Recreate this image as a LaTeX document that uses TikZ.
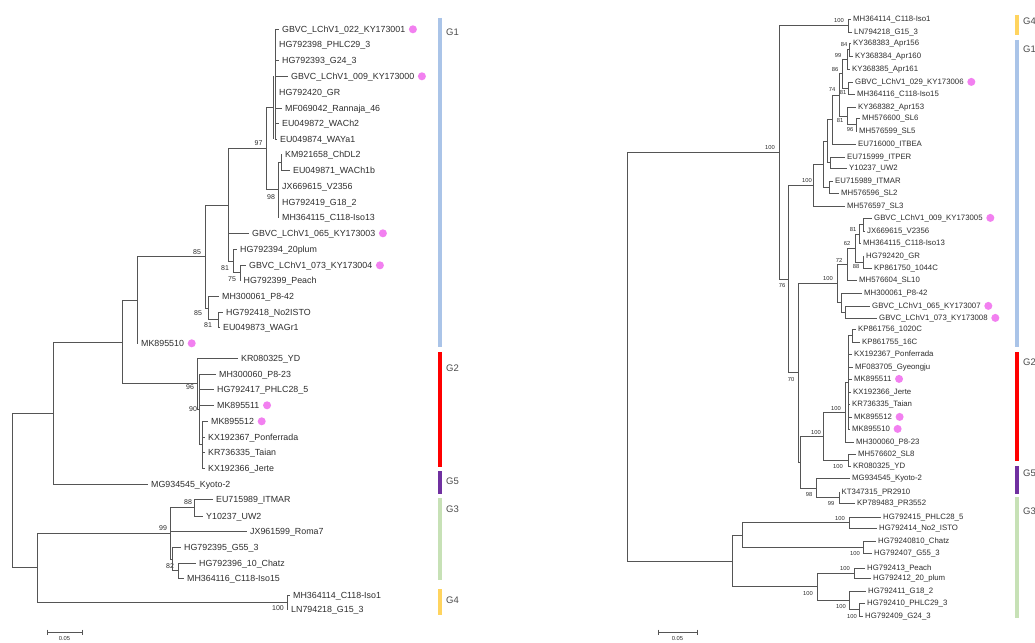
\documentclass[tikz,border=0pt]{standalone}
\usepackage{fontspec}
\setmainfont{Liberation Sans}
\definecolor{dotpink}{RGB}{242,128,240}
\definecolor{gA}{RGB}{170,196,232}
\definecolor{gB}{RGB}{255,0,0}
\definecolor{gC}{RGB}{112,48,160}
\definecolor{gD}{RGB}{199,225,182}
\definecolor{gE}{RGB}{255,212,95}
\definecolor{lnc}{RGB}{85,85,85}
\definecolor{txc}{RGB}{45,45,45}
\newcommand\tvl[3]{\draw[br] (#1,#2) -- (#1,#3);}
\newcommand\thl[3]{\draw[br] (#1,#3) -- (#2,#3);}
\newcommand\leafL[5]{\draw[br] (#2,#4) -- (#3-3,#4); \node[lblL] (#1) at (#3,#4+3.2) {#5};}
\newcommand\leafR[5]{\draw[brR] (#2,#4) -- (#3-2.5,#4); \node[lblR] (#1) at (#3,#4+2.8) {#5};}
\newcommand\pinkdot[2]{\node[dotc] (#1) at ([xshift=7.5pt,yshift=2.9pt]#2.base east) {};}
\begin{document}
\begin{tikzpicture}[x=1pt,y=-1pt,
 br/.style={draw=lnc, line width=0.9pt},
 brR/.style={draw=lnc, line width=0.8pt},
 lblL/.style={font=\fontsize{8.85}{10}\selectfont, text=txc, inner sep=0pt, anchor=base west},
 lblR/.style={font=\fontsize{7.8}{9}\selectfont, text=txc, inner sep=0pt, anchor=base west},
 bsL/.style={font=\fontsize{7}{8}\selectfont, text=txc, inner sep=0pt},
 bsR/.style={font=\fontsize{5.8}{7}\selectfont, text=txc, inner sep=0pt},
 dotc/.style={circle, fill=dotpink, minimum size=8pt, inner sep=0pt},
 grp/.style={font=\fontsize{9.5}{11}\selectfont, text=black!70, anchor=west, inner sep=0pt},
 bar/.style={line width=4.5pt}
]
\useasboundingbox (0,0) rectangle (1035,642);
\fill[white] (0,0) rectangle (1035,642);
\clip (0,0) rectangle (1035,642);

% ================= LEFT TREE =================
\tvl{275}{29}{139}
\tvl{273}{76}{139}
\thl{266}{273}{107.5}
\leafL{L1}{275}{282}{29}{GBVC\_LChV1\_022\_KY173001}\pinkdot{D1}{L1}
\leafL{L2}{275}{279}{44}{HG792398\_PHLC29\_3}
\leafL{L3}{275}{282}{60}{HG792393\_G24\_3}
\leafL{L4}{275}{291}{76}{GBVC\_LChV1\_009\_KY173000}\pinkdot{D2}{L4}
\leafL{L5}{275}{279}{92}{HG792420\_GR}
\leafL{L6}{275}{285}{108}{MF069042\_Rannaja\_46}
\leafL{L7}{275}{282}{123}{EU049872\_WACh2}
\leafL{L8}{275}{280}{139}{EU049874\_WAYa1}
\tvl{281}{154}{170}
\leafL{L9}{281}{285}{154}{KM921658\_ChDL2}
\leafL{L10}{281}{293}{170}{EU049871\_WACh1b}
\thl{278}{281}{162}
\leafL{L11}{278}{282}{186}{JX669615\_V2356}
\leafL{L12}{278}{282}{202}{HG792419\_G18\_2}
\leafL{L13}{278}{282}{217}{MH364115\_C118-Iso13}
\tvl{278}{162}{217}
\thl{266}{278}{189.5}
\node[bsL] (bL98) at (271,197) {98};
\tvl{266}{107.5}{189.5}
\thl{228}{266}{148.5}
\node[bsL] (bL97) at (258.5,143) {97};
\leafL{L14}{228}{252}{233}{GBVC\_LChV1\_065\_KY173003}\pinkdot{D3}{L14}
\leafL{L15}{233}{240}{249}{HG792394\_20plum}
\leafL{L16}{240}{249}{265}{GBVC\_LChV1\_073\_KY173004}\pinkdot{D4}{L16}
\leafL{L17}{240}{243.5}{280}{HG792399\_Peach}
\tvl{240}{265}{280}
\thl{233}{240}{272.5}
\node[bsL] (bL75) at (232,279) {75};
\tvl{233}{249}{272.5}
\thl{228}{233}{261}
\node[bsL] (bL81a) at (225,268) {81};
\tvl{228}{148.5}{261}
\thl{205}{228}{205}
\leafL{L18}{208}{222}{296}{MH300061\_P8-42}
\leafL{L19}{218}{226}{312}{HG792418\_No2ISTO}
\leafL{L20}{218}{223}{327}{EU049873\_WAGr1}
\tvl{218}{312}{327}
\thl{208}{218}{319.5}
\node[bsL] (bL81b) at (208,325) {81};
\tvl{208}{296}{319.5}
\thl{205}{208}{308}
\node[bsL] (bL85b) at (198,313) {85};
\tvl{205}{205}{308}
\thl{137}{205}{256.5}
\node[bsL] (bL85a) at (197,252) {85};
\leafL{L21}{137}{141}{343}{MK895510}\pinkdot{D5}{L21}
\tvl{137}{256.5}{343}
\thl{122}{137}{300}
\leafL{L22}{197}{241}{358}{KR080325\_YD}
\leafL{L23}{199}{219}{374}{MH300060\_P8-23}
\leafL{L24}{199}{217}{389}{HG792417\_PHLC28\_5}
\leafL{L25}{199}{217}{405}{MK895511}\pinkdot{D6}{L25}
\leafL{L26}{202}{211}{421}{MK895512}\pinkdot{D7}{L26}
\leafL{L27}{202}{208}{437}{KX192367\_Ponferrada}
\leafL{L28}{202}{208}{452}{KR736335\_Taian}
\leafL{L29}{202}{208}{468}{KX192366\_Jerte}
\tvl{202}{421}{468}
\thl{199}{202}{444.5}
\tvl{199}{374}{444.5}
\thl{197}{199}{409}
\node[bsL] (bL90) at (193,409) {90};
\tvl{197}{358}{409}
\thl{122}{197}{383.5}
\node[bsL] (bL96) at (190,387) {96};
\tvl{122}{300}{383.5}
\thl{53}{122}{342}
\leafL{L30}{53}{151}{484}{MG934545\_Kyoto-2}
\tvl{53}{342}{484}
\thl{12}{53}{413}
\leafL{L31}{194}{216}{499}{EU715989\_ITMAR}
\leafL{L32}{194}{206}{516}{Y10237\_UW2}
\tvl{194}{499}{516}
\thl{170}{194}{507.5}
\node[bsL] (bL88) at (188,502) {88};
\leafL{L33}{170}{250}{531}{JX961599\_Roma7}
\leafL{L34}{172}{184}{547}{HG792395\_G55\_3}
\leafL{L35}{178}{199}{563}{HG792396\_10\_Chatz}
\leafL{L36}{178}{187}{578}{MH364116\_C118-Iso15}
\tvl{178}{563}{578}
\thl{172}{178}{570.5}
\node[bsL] (bL82) at (170,566) {82};
\tvl{172}{547}{570.5}
\thl{170}{172}{559}
\tvl{170}{507.5}{559}
\thl{37}{170}{533}
\node[bsL] (bL99) at (163,528) {99};
\leafL{L37}{287}{293}{595}{MH364114\_C118-Iso1}
\leafL{L38}{287}{291}{609}{LN794218\_G15\_3}
\tvl{287}{595}{609}
\thl{37}{287}{602}
\node[bsL] (bL100) at (278,608) {100};
\tvl{37}{533}{602}
\thl{12}{37}{567.5}
\tvl{12}{413}{567.5}
% scale bar left
\draw[br] (47,632) -- (82,632);
\draw[br] (47,629.5) -- (47,634.5);
\draw[br] (82,629.5) -- (82,634.5);
\node[bsR] (sL) at (64.5,638.5) {0.05};
% group bars left
\draw[bar, gA] (440,18) -- (440,347);
\draw[bar, gB] (440,352) -- (440,467);
\draw[bar, gC] (440,471) -- (440,494);
\draw[bar, gD] (440,498) -- (440,580);
\draw[bar, gE] (440,589) -- (440,615);
\node[grp] (gL1) at (446,32) {G1};
\node[grp] (gL2) at (446,368) {G2};
\node[grp] (gL5) at (446,481) {G5};
\node[grp] (gL3) at (446,509) {G3};
\node[grp] (gL4) at (446,600) {G4};

% ================= RIGHT TREE =================
\leafR{R1}{848}{853}{19}{MH364114\_C118-Iso1}
\leafR{R2}{848}{854}{32}{LN794218\_G15\_3}
\tvl{848}{19}{32}
\thl{779}{848}{25.5}
\node[bsR] (bR100a) at (839,21) {100};
\leafR{R3}{849}{853}{43}{KY368383\_Apr156}
\leafR{R4}{849}{855}{56}{KY368384\_Apr160}
\tvl{849}{43}{56}
\node[bsR] (bR84) at (844,45) {84};
\leafR{R5}{847}{852}{69}{KY368385\_Apr161}
\thl{847}{849}{49.5}
\tvl{847}{49.5}{69}
\node[bsR] (bR99a) at (838,56) {99};
\leafR{R6}{848}{855}{82}{GBVC\_LChV1\_029\_KY173006}\pinkdot{D8}{R6}
\leafR{R7}{848}{857}{94}{MH364116\_C118-Iso15}
\tvl{848}{82}{94}
\node[bsR] (bR81a) at (843,93) {81};
\thl{842}{847}{59}
\thl{842}{848}{88}
\tvl{842}{59}{88}
\node[bsR] (bR86) at (835,70) {86};
\leafR{R8}{847}{858}{107}{KY368382\_Apr153}
\leafR{R9}{856}{862}{118}{MH576600\_SL6}
\leafR{R10}{856}{859}{131}{MH576599\_SL5}
\tvl{856}{118}{131}
\node[bsR] (bR96) at (850,130) {96};
\thl{847}{856}{124.5}
\tvl{847}{107}{124.5}
\node[bsR] (bR81b) at (840,121) {81};
\thl{839}{842}{73.5}
\thl{839}{847}{116}
\tvl{839}{73.5}{116}
\node[bsR] (bR74) at (832,90) {74};
\leafR{R11}{832}{858}{144}{EU716000\_ITBEA}
\thl{832}{839}{95}
\tvl{832}{95}{144}
\leafR{R12}{830}{847}{157}{EU715999\_ITPER}
\leafR{R13}{830}{849}{168}{Y10237\_UW2}
\tvl{830}{157}{168}
\thl{827}{832}{119.5}
\thl{827}{830}{162.5}
\tvl{827}{119.5}{162.5}
\leafR{R14}{829}{835}{181}{EU715989\_ITMAR}
\leafR{R15}{829}{841}{193}{MH576596\_SL2}
\tvl{829}{181}{193}
\thl{823}{827}{141}
\thl{823}{829}{187}
\tvl{823}{141}{187}
\leafR{R16}{813}{847}{206}{MH576597\_SL3}
\thl{813}{823}{164}
\tvl{813}{164}{206}
\thl{788}{813}{185}
\node[bsR] (bR100b) at (807,181) {100};
\leafR{R17}{863}{874}{218}{GBVC\_LChV1\_009\_KY173005}\pinkdot{D9}{R17}
\leafR{R18}{863}{867}{231}{JX669615\_V2356}
\tvl{863}{218}{231}
\leafR{R19}{859}{863}{243}{MH364115\_C118-Iso13}
\thl{859}{863}{224.5}
\tvl{859}{224.5}{243}
\node[bsR] (bR81c) at (853,230) {81};
\leafR{R20}{863}{866}{256}{HG792420\_GR}
\leafR{R21}{863}{874}{268}{KP861750\_1044C}
\tvl{863}{256}{268}
\node[bsR] (bR88) at (856,267) {88};
\thl{855}{859}{234}
\thl{855}{863}{262}
\tvl{855}{234}{262}
\node[bsR] (bR62) at (847,244) {62};
\leafR{R22}{847}{859}{280}{MH576604\_SL10}
\thl{847}{855}{248}
\tvl{847}{248}{280}
\node[bsR] (bR72) at (839,260) {72};
\leafR{R23}{841}{864}{293}{MH300061\_P8-42}
\leafR{R24}{845}{872}{306}{GBVC\_LChV1\_065\_KY173007}\pinkdot{D10}{R24}
\leafR{R25}{845}{879}{318}{GBVC\_LChV1\_073\_KY173008}\pinkdot{D11}{R25}
\tvl{845}{306}{318}
\thl{841}{845}{312}
\tvl{841}{293}{312}
\thl{837}{847}{264}
\thl{837}{841}{302.5}
\tvl{837}{264}{302.5}
\thl{798}{837}{283}
\node[bsR] (bR100c) at (828,279) {100};
\leafR{R26}{852}{858}{329}{KP861756\_1020C}
\leafR{R27}{852}{862}{342}{KP861755\_16C}
\tvl{852}{329}{342}
\thl{848}{852}{335.5}
\leafR{R28}{848}{854}{354}{KX192367\_Ponferrada}
\leafR{R29}{848}{855}{367}{MF083705\_Gyeongju}
\leafR{R30}{848}{854}{379}{MK895511}\pinkdot{D12}{R30}
\leafR{R31}{848}{853}{392}{KX192366\_Jerte}
\leafR{R32}{848}{852}{404}{KR736335\_Taian}
\leafR{R33}{848}{854}{417}{MK895512}\pinkdot{D13}{R33}
\leafR{R34}{848}{852}{429}{MK895510}\pinkdot{D14}{R34}
\tvl{848}{335.5}{429}
\leafR{R35}{845}{856}{442}{MH300060\_P8-23}
\thl{845}{848}{382}
\tvl{845}{382}{442}
\thl{823}{845}{412}
\node[bsR] (bR100d) at (836,408) {100};
\leafR{R36}{848}{858}{454}{MH576602\_SL8}
\leafR{R37}{848}{853}{466}{KR080325\_YD}
\tvl{848}{454}{466}
\thl{823}{848}{460}
\node[bsR] (bR100e) at (838,466) {100};
\tvl{823}{412}{460}
\thl{800}{823}{436}
\node[bsR] (bR100f) at (816,432) {100};
\leafR{R38}{816}{852}{478}{MG934545\_Kyoto-2}
\leafR{R39}{839}{841.5}{492}{KT347315\_PR2910}
\leafR{R40}{839}{857}{503}{KP789483\_PR3552}
\tvl{839}{492}{503}
\node[bsR] (bR99b) at (831,503) {99};
\thl{816}{839}{497.5}
\tvl{816}{478}{497.5}
\node[bsR] (bR98) at (809,494) {98};
\thl{800}{816}{488}
\tvl{800}{436}{488}
\thl{798}{800}{462}
\tvl{798}{283}{462}
\thl{788}{798}{372.5}
\node[bsR] (bR70) at (791,379) {70};
\tvl{788}{185}{372.5}
\thl{779}{788}{279}
\node[bsR] (bR76) at (782,286) {76};
\tvl{779}{25.5}{279}
\thl{627}{779}{152}
\node[bsR] (bR100g) at (770,148) {100};
% G3 right
\leafR{R41}{849}{883}{517}{HG792415\_PHLC28\_5}
\leafR{R42}{849}{879}{528}{HG792414\_No2\_ISTO}
\tvl{849}{517}{528}
\node[bsR] (bR100h) at (840,518) {100};
\leafR{R43}{863}{878}{541}{HG79240810\_Chatz}
\leafR{R44}{863}{874}{553}{HG792407\_G55\_3}
\tvl{863}{541}{553}
\node[bsR] (bR100i) at (855,553) {100};
\thl{742}{849}{522.5}
\thl{742}{863}{547}
\tvl{742}{522.5}{547}
\leafR{R45}{854}{867}{568}{HG792413\_Peach}
\leafR{R46}{854}{873}{578}{HG792412\_20\_plum}
\tvl{854}{568}{578}
\node[bsR] (bR100j) at (845,568) {100};
\leafR{R47}{849}{868}{591}{HG792411\_G18\_2}
\leafR{R48}{859}{867}{603}{HG792410\_PHLC29\_3}
\leafR{R49}{859}{865}{616}{HG792409\_G24\_3}
\tvl{859}{603}{616}
\node[bsR] (bR100k) at (852,616) {100};
\thl{849}{859}{609.5}
\tvl{849}{591}{609.5}
\node[bsR] (bR100l) at (841,606) {100};
\thl{817}{854}{573}
\thl{817}{849}{600}
\tvl{817}{573}{600}
\node[bsR] (bR100m) at (808,593) {100};
\thl{732}{742}{535}
\thl{732}{817}{586.5}
\tvl{732}{535}{586.5}
\thl{627}{732}{561}
\tvl{627}{152}{561}
% scale bar right
\draw[brR] (658,632) -- (697,632);
\draw[brR] (658,629.5) -- (658,634.5);
\draw[brR] (697,629.5) -- (697,634.5);
\node[bsR] (sR) at (677.5,638.5) {0.05};
% group bars right
\draw[bar, gE] (1017,15) -- (1017,35);
\draw[bar, gA] (1017,40) -- (1017,347);
\draw[bar, gB] (1017,352) -- (1017,461);
\draw[bar, gC] (1017,466) -- (1017,494);
\draw[bar, gD] (1017,497) -- (1017,618);
\node[grp] (gR4) at (1023,21) {G4};
\node[grp] (gR1) at (1023,49) {G1};
\node[grp] (gR2) at (1023,362) {G2};
\node[grp] (gR5) at (1023,473) {G5};
\node[grp] (gR3) at (1023,511) {G3};
\end{tikzpicture}
\end{document}
